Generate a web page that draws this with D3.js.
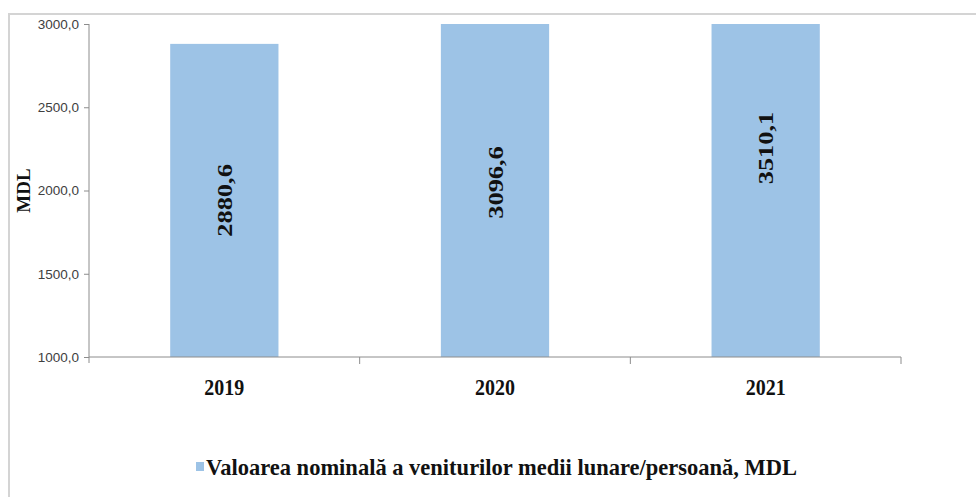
<!DOCTYPE html>
<html>
<head>
<meta charset="utf-8">
<script src="https://cdn.jsdelivr.net/npm/d3@7"></script>
<style>
  body { margin: 0; background: #fff; }
  svg { display: block; }
  .tick text { font-family: "Liberation Sans", Arial, sans-serif; }
</style>
</head>
<body>
<svg id="chart" width="976" height="497"></svg>
<script>
// data
const years = ["2019", "2020", "2021"];
const values = [2880.6, 3096.6, 3510.1];
const yTicks = [1000, 1500, 2000, 2500, 3000];
const yDomain = [1000, 3000];
const seriesName = "Valoarea nominală a veniturilor medii lunare/persoană, MDL";

const svg = d3.select("#chart");
const barColor = "#9dc3e6";
const axisColor = "#8c8c8c";
const serif = "'Liberation Serif', 'Times New Roman', serif";

const plot = {left: 89, right: 901, top: 24, bottom: 357};

// outer frame (only top and left edges visible)
svg.append("line").attr("x1", 8).attr("x2", 976).attr("y1", 14).attr("y2", 14)
  .attr("stroke", "#d4d4d4").attr("stroke-width", 2);
svg.append("line").attr("x1", 9).attr("x2", 9).attr("y1", 14).attr("y2", 497)
  .attr("stroke", "#d4d4d4").attr("stroke-width", 2);

const x = d3.scaleBand().domain(years).range([plot.left, plot.right]).padding(0);
const y = d3.scaleLinear().domain(yDomain).range([plot.bottom, plot.top]);
const barW = x.bandwidth() * 0.4;

svg.append("clipPath").attr("id", "plotClip")
  .append("rect")
  .attr("x", plot.left).attr("y", plot.top)
  .attr("width", plot.right - plot.left).attr("height", plot.bottom - plot.top);

// bars
svg.append("g").attr("clip-path", "url(#plotClip)")
  .selectAll("rect").data(years).join("rect")
  .attr("x", d => x(d) + (x.bandwidth() - barW) / 2)
  .attr("width", barW)
  .attr("y", (d, i) => y(values[i]))
  .attr("height", (d, i) => y(yDomain[0]) - y(values[i]))
  .attr("fill", barColor);

// value labels, centred on the full (unclipped) bar
svg.append("g").selectAll("text").data(years).join("text")
  .attr("transform", (d, i) => {
    const cx = x(d) + x.bandwidth() / 2;
    const cy = (y(values[i]) + y(yDomain[0])) / 2;
    return `translate(${cx},${cy}) scale(1,1.2) rotate(-90)`;
  })
  .attr("text-anchor", "middle")
  .attr("dy", "0.35em")
  .attr("font-family", serif)
  .attr("font-weight", "bold")
  .attr("font-size", 22)
  .attr("fill", "#111")
  .text((d, i) => values[i].toFixed(1).replace(".", ","));

// y axis
const yAxis = svg.append("g")
  .attr("transform", `translate(${plot.left},0)`)
  .call(d3.axisLeft(y).tickValues(yTicks).tickSize(5).tickPadding(5)
    .tickFormat(d => d.toFixed(1).replace(".", ",")));
yAxis.select(".domain").remove();
yAxis.selectAll(".tick line").attr("stroke", axisColor);
yAxis.selectAll(".tick text").attr("font-size", 13.5).attr("fill", "#404040");
svg.append("line").attr("x1", plot.left).attr("x2", plot.left)
  .attr("y1", plot.top).attr("y2", plot.bottom + 6).attr("stroke", axisColor);

// x axis
svg.append("line").attr("x1", plot.left).attr("x2", plot.right)
  .attr("y1", plot.bottom).attr("y2", plot.bottom).attr("stroke", axisColor);
const bounds = years.map(d => x(d)).concat(plot.right);
svg.append("g").selectAll("line").data(bounds.slice(1)).join("line")
  .attr("x1", d => d).attr("x2", d => d)
  .attr("y1", plot.bottom).attr("y2", plot.bottom + 7)
  .attr("stroke", axisColor);

svg.append("g").selectAll("text").data(years).join("text")
  .attr("transform", d => `translate(${x(d) + x.bandwidth() / 2},${plot.bottom + 38}) scale(1,1.18)`)
  .attr("text-anchor", "middle")
  .attr("font-family", serif)
  .attr("font-weight", "bold")
  .attr("font-size", 20)
  .attr("fill", "#111")
  .text(d => d);

// y axis title
svg.append("text")
  .attr("transform", `translate(30,${(plot.top + plot.bottom) / 2}) rotate(-90)`)
  .attr("text-anchor", "middle")
  .attr("font-family", serif)
  .attr("font-weight", "bold")
  .attr("font-size", 19)
  .attr("fill", "#111")
  .text("MDL");

// legend
svg.append("rect").attr("x", 196).attr("y", 462).attr("width", 8).attr("height", 9)
  .attr("fill", barColor);
svg.append("text")
  .attr("x", 206).attr("y", 475)
  .attr("font-family", serif)
  .attr("font-weight", "bold")
  .attr("font-size", 23)
  .attr("fill", "#111")
  .attr("textLength", 591)
  .attr("lengthAdjust", "spacingAndGlyphs")
  .text(seriesName);
</script>
</body>
</html>
